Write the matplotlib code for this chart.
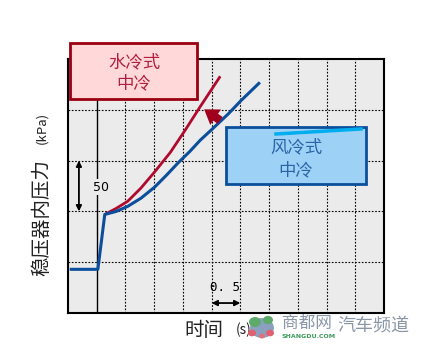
import matplotlib
matplotlib.use("Agg")
import matplotlib.pyplot as plt
from matplotlib.patches import Rectangle, FancyArrowPatch, Circle
from matplotlib.lines import Line2D

plt.rcParams['font.family'] = ['Noto Sans CJK SC', 'DejaVu Sans']

# ---- data ----
blue_t = [0.03, 0.52, 0.64, 0.84, 1.04, 1.27, 1.51, 1.72, 1.92, 2.12, 2.30, 2.51, 2.79, 3.01, 3.34]
blue_p = [43, 43, 97, 100, 105, 113, 124, 136, 148, 159, 170, 181, 196, 209, 227]
red_t = [0.64, 0.84, 1.04, 1.27, 1.51, 1.78, 2.04, 2.30, 2.65]
red_p = [97, 103, 110, 123, 139, 158, 180, 203, 233]
x_grid = [1.0, 1.5, 2.0, 2.5, 3.0, 3.5, 4.0, 4.5, 5.0]
y_grid = [50, 100, 150, 200]
event_t = 0.5
scale_p = (100, 150)      # "50" bracket
scale_t = (2.5, 3.0)      # "0.5" bracket

BLUE = '#0B4F9C'
RED = '#B0092E'

fig = plt.figure(figsize=(4.27, 3.55), dpi=100)
ax = fig.add_axes([68/427, 42/355, 316/427, 254/355])
ax.set_facecolor('#EBEBEB')
ax.set_xlim(0, 5.5)
ax.set_ylim(0, 250)
ax.set_xticks([])
ax.set_yticks([])
for s in ax.spines.values():
    s.set_linewidth(1.5)
    s.set_color('black')

for x in x_grid:
    ax.axvline(x, color='black', lw=0.8, ls=(0, (1.5, 1.5)), zorder=1)
for y in y_grid:
    ax.axhline(y, color='black', lw=0.8, ls=(0, (1.5, 1.5)), zorder=1)
ax.axvline(event_t, color='black', lw=1.0, zorder=1)

ax.plot(red_t, red_p, color=RED, lw=2.0, zorder=3, solid_capstyle='butt', solid_joinstyle='round')
ax.plot(blue_t, blue_p, color=BLUE, lw=2.2, zorder=4, solid_capstyle='butt', solid_joinstyle='round')

# scale bracket 50
ax.annotate('', xy=(0.19, scale_p[0]), xytext=(0.19, scale_p[1]),
            arrowprops=dict(arrowstyle='<|-|>', color='black', lw=1.3,
                            mutation_scale=8, shrinkA=0, shrinkB=0), zorder=5)
ax.text(0.57, 124, '50', fontsize=9, ha='center', va='center', family='DejaVu Sans',
        bbox=dict(facecolor='#EBEBEB', edgecolor='none', pad=1), zorder=5)

# scale bracket 0.5
ax.annotate('', xy=(scale_t[0], 9.8), xytext=(scale_t[1], 9.8),
            arrowprops=dict(arrowstyle='<|-|>', color='black', lw=1.3,
                            mutation_scale=8, shrinkA=0, shrinkB=0), zorder=5)
ax.text(2.74, 25.5, '0. 5', fontsize=9, ha='center', va='center', family='DejaVu Sans Mono',
        zorder=5)

# fat red arrow
arr = FancyArrowPatch((2.69, 188), (2.33, 202),
                      arrowstyle='simple,head_width=1.35,head_length=1.0,tail_width=0.6',
                      mutation_scale=10, color='#A0001E', lw=0, zorder=6)
ax.add_patch(arr)

# boxes (figure coords)
fig.patches.append(Rectangle((70/427, 1-99/355), 127/427, 56/355, transform=fig.transFigure,
                             facecolor='#FFD9D9', edgecolor='#9A0010', lw=2, zorder=10))
fig.text(134/427, 1-62/355, '水冷式', color='#B02040', fontsize=12.5, ha='center', va='center', zorder=11)
fig.text(134/427, 1-83/355, '中冷', color='#B02040', fontsize=12.5, ha='center', va='center', zorder=11)

fig.patches.append(Rectangle((226/427, 1-184/355), 140/427, 57/355, transform=fig.transFigure,
                             facecolor='#9DD1F5', edgecolor='#0B4F9C', lw=2, zorder=10))
fig.lines.append(Line2D([276/427, 361/427], [1-134/355, 1-129/355], transform=fig.transFigure,
                        color='#00AEEF', lw=2.5, zorder=11))
fig.text(296/427, 1-147/355, '风冷式', color='#2A64A8', fontsize=12.5, ha='center', va='center', zorder=11)
fig.text(296/427, 1-170/355, '中冷', color='#2A64A8', fontsize=12.5, ha='center', va='center', zorder=11)

# axis labels
fig.text(42/427, 1-217/355, '稳压器内压力', rotation=90, fontsize=14, ha='center', va='center',
         color='#222222', weight='light')
fig.text(42/427, 1-128/355, '(kPa)', rotation=90, fontsize=9.5, ha='center', va='center', color='#222222')
fig.text(204/427, 1-330/355, '时间', fontsize=14, ha='center', va='center', color='#222222', weight='light')
fig.text(236/427, 1-330/355, '(s)', fontsize=10, ha='left', va='center', color='#222222')

# watermark
fig.patches.append(Circle((262/427, 1-328/355), 0.028, transform=fig.transFigure,
                          facecolor='#7E96B8', edgecolor='none', alpha=0.9, zorder=12))
for (cx, cy, r, c) in [(255, 322, 6, '#5DAA6A'), (268, 320, 5, '#5DAA6A'), (252, 333, 4, '#E06070'),
                       (270, 333, 4, '#E06070'), (262, 336, 3, '#E07080')]:
    fig.patches.append(Circle((cx/427, 1-cy/355), r/427, transform=fig.transFigure,
                              facecolor=c, edgecolor='none', zorder=13))
fig.text(282/427, 1-323/355, '商都网', fontsize=12, color='#8A96A8', ha='left', va='center', zorder=12)
fig.text(282/427, 1-337/355, 'SHANGDU.COM', fontsize=4.5, color='#3A9A5A', ha='left', va='center',
         family='DejaVu Sans', weight='bold', zorder=12)
fig.text(337/427, 1-325/355, '汽车频道', fontsize=13, color='#8A96A8', ha='left', va='center', zorder=12)

fig.savefig('out.png', dpi=100)
